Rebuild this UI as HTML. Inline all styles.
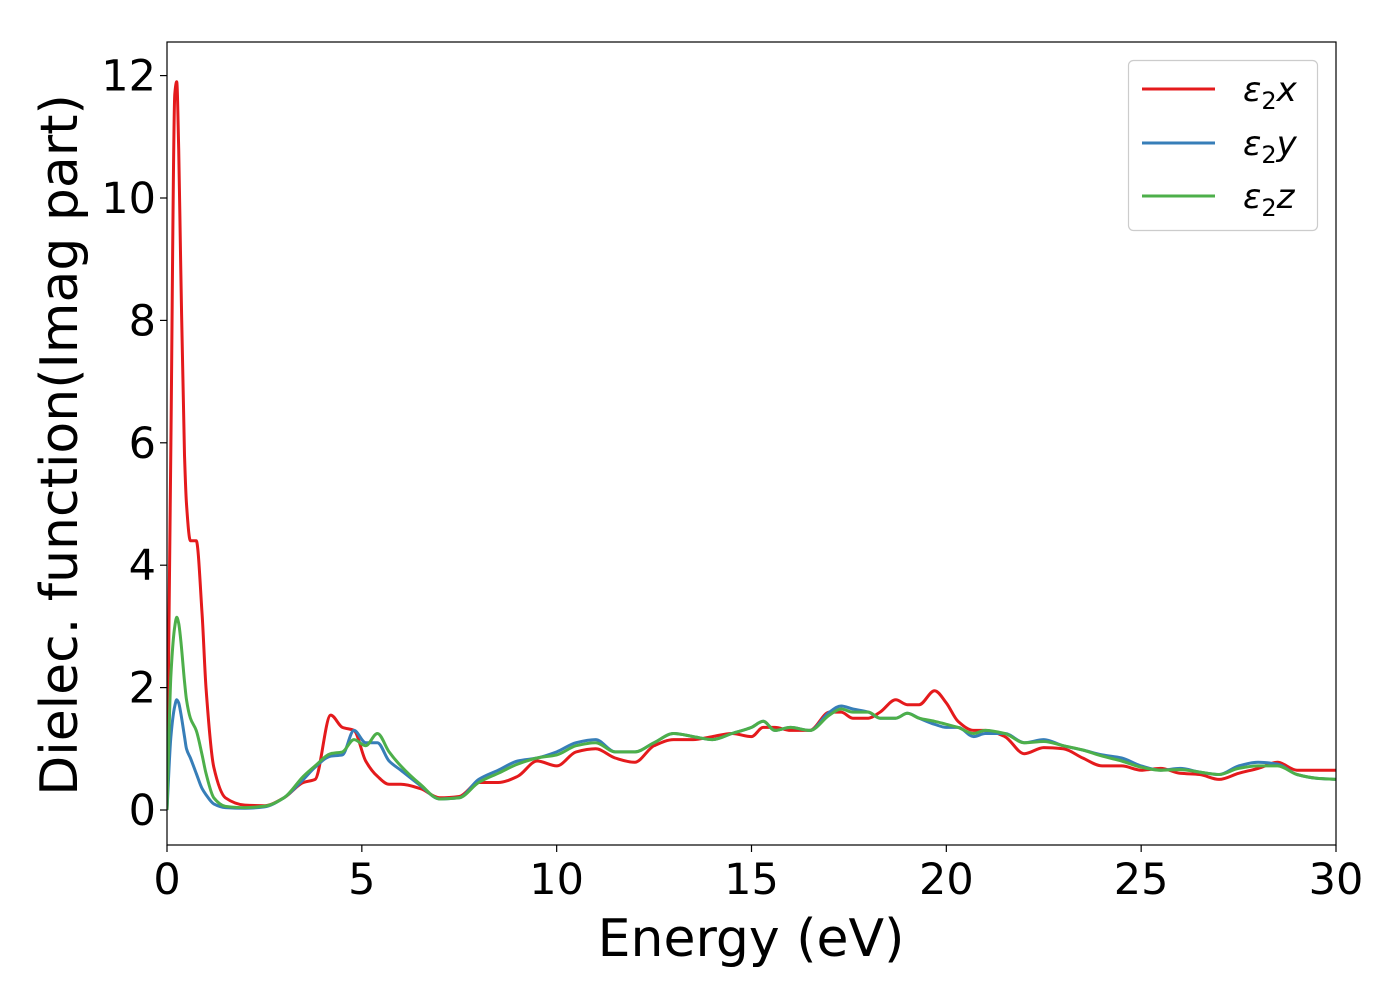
<!DOCTYPE html>
<html><head><meta charset="utf-8"><style>
body{margin:0;background:#fff;}
svg{display:block;font-family:"DejaVu Sans","Liberation Sans",sans-serif;}
</style></head><body>
<svg id="chart" width="1400" height="1000" xmlns="http://www.w3.org/2000/svg">
<defs><clipPath id="clip"><rect x="167" y="42" width="1169" height="803"/></clipPath></defs>
<rect x="0" y="0" width="1400" height="1000" fill="#fff"/>
<g id="series" clip-path="url(#clip)"></g>
<rect x="167" y="42" width="1169" height="803" fill="none" stroke="#000" stroke-width="1.2"/>
<g id="xticks"></g>
<g id="yticks"></g>
<text x="751" y="956" font-size="52" text-anchor="middle">Energy (eV)</text>
<text transform="translate(77,445) rotate(-90)" font-size="52" text-anchor="middle">Dielec. function(Imag part)</text>
<g>
<rect x="1128.5" y="60.5" width="189" height="170" rx="5" fill="#fff" stroke="#ccc" stroke-width="1.2"/>
<g><line x1="1142" y1="89" x2="1215" y2="89" stroke="#e41a1c" stroke-width="3"/><text x="1243" y="101" font-size="34" font-style="italic">ε<tspan font-size="24" font-style="normal" dy="8">2</tspan><tspan dy="-8">x</tspan></text></g>
<g><line x1="1142" y1="143" x2="1215" y2="143" stroke="#377eb8" stroke-width="3"/><text x="1243" y="155" font-size="34" font-style="italic">ε<tspan font-size="24" font-style="normal" dy="8">2</tspan><tspan dy="-8">y</tspan></text></g>
<g><line x1="1142" y1="196" x2="1215" y2="196" stroke="#4daf4a" stroke-width="3"/><text x="1243" y="208" font-size="34" font-style="italic">ε<tspan font-size="24" font-style="normal" dy="8">2</tspan><tspan dy="-8">z</tspan></text></g>
</g>
</svg>
<script>
const energy=[0,0.1,0.2,0.25,0.3,0.35,0.45,0.5,0.6,0.75,0.9,1.0,1.2,1.5,2,2.5,3,3.5,3.8,4.2,4.5,4.8,5.1,5.4,5.7,6,6.5,7,7.5,8,8.5,9,9.5,10,10.5,11,11.5,12,12.5,13,13.5,14,14.5,15,15.3,15.6,16,16.5,17,17.3,17.6,18,18.3,18.7,19,19.3,19.7,20,20.3,20.7,21,21.5,22,22.5,23,23.5,24,24.5,25,25.5,26,26.5,27,27.5,28,28.5,29,29.5,30];
const epsX=[0,6,11.7,11.9,10.8,9,5.8,5.0,4.4,4.4,3.2,2.0,0.7,0.2,0.08,0.07,0.2,0.45,0.5,1.55,1.35,1.3,0.8,0.55,0.42,0.42,0.35,0.2,0.22,0.45,0.45,0.55,0.8,0.72,0.95,1.0,0.85,0.78,1.05,1.15,1.15,1.2,1.25,1.2,1.35,1.35,1.3,1.3,1.6,1.6,1.5,1.5,1.6,1.8,1.72,1.72,1.95,1.75,1.45,1.3,1.3,1.2,0.92,1.02,1.0,0.85,0.72,0.72,0.65,0.68,0.6,0.58,0.5,0.6,0.68,0.78,0.65,0.65,0.65];
const epsY=[0,1.2,1.7,1.8,1.75,1.6,1.2,1.0,0.85,0.6,0.35,0.25,0.1,0.04,0.03,0.05,0.2,0.5,0.7,0.88,0.9,1.3,1.1,1.1,0.8,0.65,0.4,0.18,0.2,0.5,0.65,0.8,0.85,0.95,1.1,1.15,0.95,0.95,1.1,1.25,1.2,1.15,1.25,1.35,1.45,1.3,1.35,1.3,1.6,1.7,1.65,1.6,1.5,1.5,1.58,1.5,1.4,1.35,1.35,1.2,1.25,1.25,1.1,1.15,1.05,0.98,0.9,0.85,0.72,0.65,0.68,0.62,0.58,0.72,0.78,0.75,0.58,0.52,0.5];
const epsZ=[0,2.2,3.0,3.15,3.05,2.8,2.1,1.8,1.5,1.3,0.9,0.6,0.2,0.06,0.04,0.06,0.2,0.55,0.72,0.92,0.95,1.15,1.05,1.25,0.95,0.72,0.42,0.18,0.2,0.45,0.6,0.75,0.85,0.9,1.05,1.1,0.95,0.95,1.1,1.25,1.2,1.15,1.25,1.35,1.45,1.3,1.35,1.3,1.55,1.65,1.6,1.6,1.5,1.5,1.58,1.5,1.45,1.4,1.35,1.25,1.3,1.25,1.1,1.12,1.05,0.98,0.88,0.8,0.7,0.65,0.66,0.62,0.58,0.68,0.72,0.72,0.58,0.52,0.5];
const xTicks=[0,5,10,15,20,25,30];
const yTicks=[0,2,4,6,8,10,12];
const NS="http://www.w3.org/2000/svg";
function xs(e){return 167+(e-0)/30*1169;}
function ys(v){return 810-v*61.2;}
function path(vals){
  const x=energy.map(xs), y=vals.map(ys), n=x.length;
  const d0=[],m=new Array(n);
  for(let i=0;i<n-1;i++) d0.push((y[i+1]-y[i])/(x[i+1]-x[i]));
  m[0]=d0[0]; m[n-1]=d0[n-2];
  for(let i=1;i<n-1;i++){
    if(d0[i-1]*d0[i]<=0) m[i]=0;
    else { const w1=2*(x[i+1]-x[i])+(x[i]-x[i-1]), w2=(x[i+1]-x[i])+2*(x[i]-x[i-1]);
      m[i]=(w1+w2)/(w1/d0[i-1]+w2/d0[i]); }
  }
  let d="M"+x[0].toFixed(1)+","+y[0].toFixed(1);
  for(let i=0;i<n-1;i++){
    const h=(x[i+1]-x[i])/3;
    d+=" C"+(x[i]+h).toFixed(1)+","+(y[i]+m[i]*h).toFixed(1)+" "+(x[i+1]-h).toFixed(1)+","+(y[i+1]-m[i+1]*h).toFixed(1)+" "+x[i+1].toFixed(1)+","+y[i+1].toFixed(1);
  }
  return d;
}
const g=document.getElementById("series");
[[epsX,"#e41a1c","series-eps2x"],[epsY,"#377eb8","series-eps2y"],[epsZ,"#4daf4a","series-eps2z"]].forEach(s=>{
  const el=document.createElementNS(NS,"path");
  el.setAttribute("d",path(s[0]));
  el.setAttribute("fill","none");
  el.setAttribute("stroke",s[1]);
  el.setAttribute("stroke-width","3");
  
  
  g.appendChild(el);
});
const gx=document.getElementById("xticks");
xTicks.forEach(t=>{
  const l=document.createElementNS(NS,"line");
  l.setAttribute("x1",xs(t));l.setAttribute("x2",xs(t));l.setAttribute("y1",845);l.setAttribute("y2",852);l.setAttribute("stroke","#000");l.setAttribute("stroke-width","1.2");
  
  
  gx.appendChild(l);
  const tx=document.createElementNS(NS,"text");
  tx.setAttribute("x",xs(t));tx.setAttribute("y",894);tx.setAttribute("font-size","43");tx.setAttribute("text-anchor","middle");
  tx.textContent=t;
  
  
  gx.appendChild(tx);
});
const gy=document.getElementById("yticks");
yTicks.forEach(t=>{
  const l=document.createElementNS(NS,"line");
  l.setAttribute("x1",160);l.setAttribute("x2",167);l.setAttribute("y1",ys(t));l.setAttribute("y2",ys(t));l.setAttribute("stroke","#000");l.setAttribute("stroke-width","1.2");
  
  
  gy.appendChild(l);
  const tx=document.createElementNS(NS,"text");
  tx.setAttribute("x",156);tx.setAttribute("y",ys(t)+15);tx.setAttribute("font-size","43");tx.setAttribute("text-anchor","end");
  tx.textContent=t;
  
  
  gy.appendChild(tx);
});
</script>
</body></html>
